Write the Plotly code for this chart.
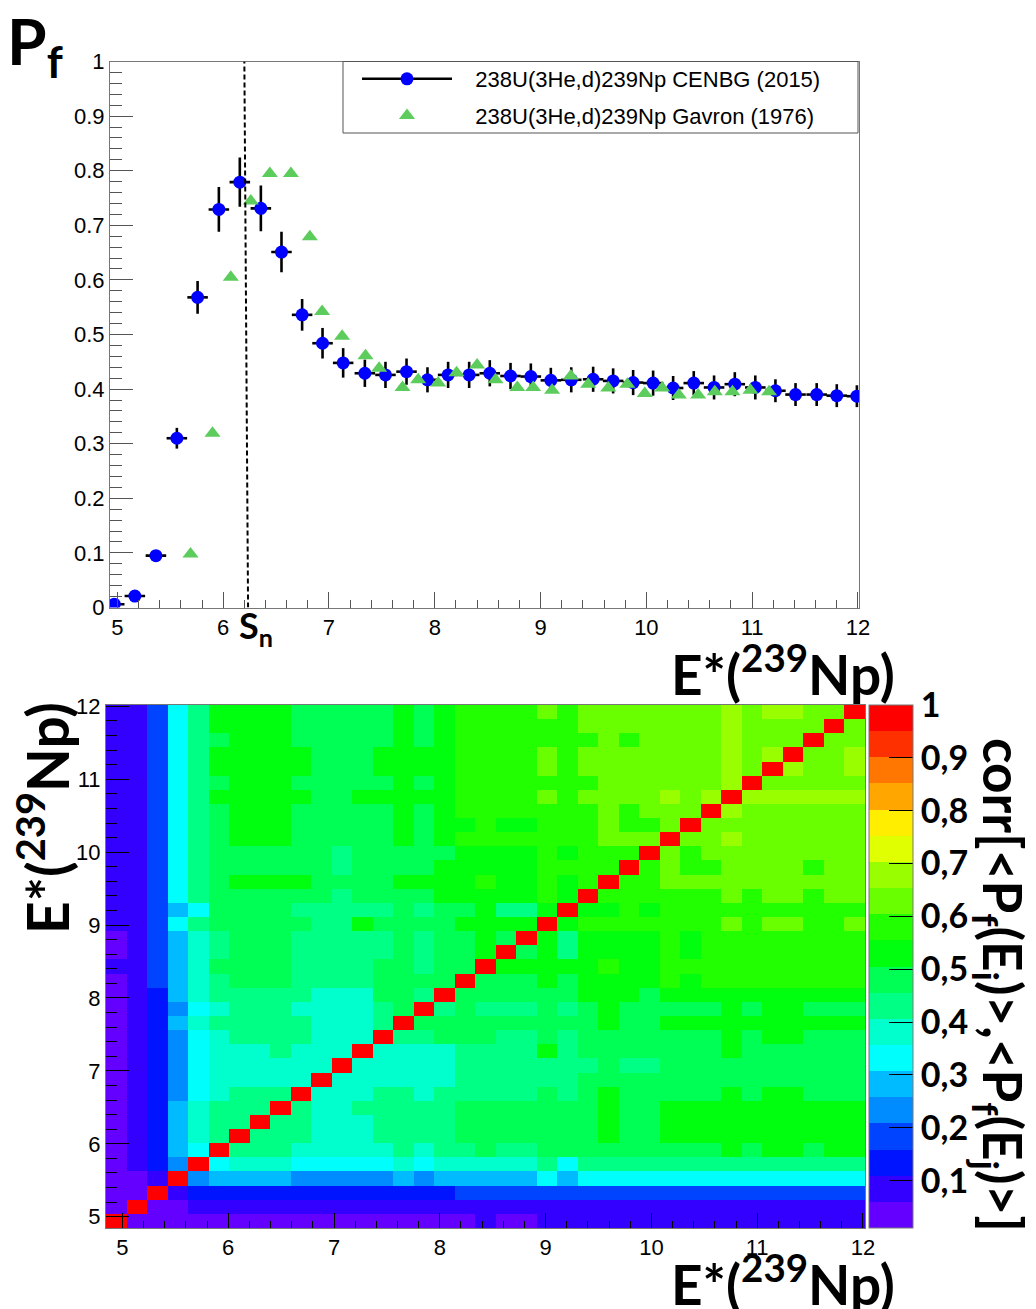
import colorsys
import plotly.graph_objects as go

# ---------------- top panel data ----------------
E_cenbg = [4.97, 5.165, 5.364, 5.562, 5.758, 5.959, 6.157, 6.356, 6.551, 6.746, 6.939, 7.134,
           7.339, 7.534, 7.733, 7.931, 8.126, 8.325, 8.52, 8.716, 8.908, 9.097, 9.29, 9.497,
           9.686, 9.875, 10.064, 10.253, 10.448, 10.64, 10.836, 11.03, 11.22, 11.41, 11.61,
           11.80, 11.99]
Pf_cenbg = [0.006, 0.021, 0.095, 0.310, 0.568, 0.729, 0.779, 0.731, 0.651, 0.536, 0.484, 0.448,
            0.429, 0.426, 0.432, 0.417, 0.426, 0.426, 0.429, 0.424, 0.423, 0.416, 0.417, 0.418,
            0.415, 0.412, 0.411, 0.402, 0.411, 0.403, 0.409, 0.403, 0.397, 0.390, 0.390,
            0.388, 0.387]
dPf_cenbg = [0.004, 0.005, 0.006, 0.019, 0.030, 0.041, 0.045, 0.042, 0.037, 0.029, 0.028, 0.027,
             0.025, 0.024, 0.024, 0.023, 0.024, 0.024, 0.024, 0.024, 0.024, 0.023, 0.023, 0.023,
             0.023, 0.023, 0.023, 0.022, 0.022, 0.022, 0.022, 0.022, 0.021, 0.021, 0.021,
             0.021, 0.020]
dE_half_bin = 0.097

E_gavron = [5.691, 5.899, 6.072, 6.261, 6.441, 6.64, 6.819, 6.935, 7.124, 7.345, 7.474, 7.695,
            7.843, 8.032, 8.206, 8.40, 8.574, 8.78, 8.93, 9.109, 9.286, 9.45, 9.64, 9.82,
            9.985, 10.15, 10.307, 10.49, 10.647, 10.814, 10.984, 11.16]
Pf_gavron = [0.098, 0.319, 0.605, 0.7445, 0.795, 0.795, 0.679, 0.542, 0.497, 0.461, 0.438, 0.403,
             0.417, 0.411, 0.430, 0.444, 0.417, 0.403, 0.403, 0.398, 0.424, 0.409, 0.402, 0.409,
             0.392, 0.402, 0.389, 0.389, 0.395, 0.395, 0.398, 0.395]

S_n = 6.215
x_ticks_top = [5, 6, 7, 8, 9, 10, 11, 12]
y_ticks_top = [0, 0.1, 0.2, 0.3, 0.4, 0.5, 0.6, 0.7, 0.8, 0.9, 1]
legend_names = ["238U(3He,d)239Np CENBG (2015)", "238U(3He,d)239Np Gavron (1976)"]

# ---------------- bottom panel data ----------------
E_bin_edges = [4.845, 5.039, 5.233, 5.427, 5.621, 5.815, 6.008, 6.202, 6.396, 6.590, 6.784,
               6.978, 7.172, 7.366, 7.560, 7.754, 7.947, 8.141, 8.335, 8.529, 8.723, 8.917,
               9.111, 9.305, 9.499, 9.693, 9.886, 10.080, 10.274, 10.468, 10.662, 10.856,
               11.050, 11.244, 11.438, 11.632, 11.825, 12.019]

# lower triangle of the (symmetric) correlation matrix, row i = E_i, columns j <= i
corr_lower = [
    [1],
    [.04, 1],
    [.04, .04, 1],
    [.04, .04, .08, 1],
    [.04, .08, .13, .23, 1],
    [.04, .08, .13, .28, .33, 1],
    [.04, .08, .13, .28, .38, .43, 1],
    [.04, .08, .13, .28, .38, .43, .43, 1],
    [.04, .08, .13, .28, .38, .43, .43, .43, 1],
    [.04, .08, .13, .23, .33, .38, .43, .43, .43, 1],
    [.04, .08, .13, .23, .33, .38, .38, .38, .38, .38, 1],
    [.04, .08, .13, .23, .33, .38, .38, .38, .38, .38, .38, 1],
    [.04, .08, .13, .23, .33, .38, .38, .38, .43, .38, .38, .38, 1],
    [.04, .08, .13, .23, .33, .38, .43, .43, .43, .43, .38, .38, .38, 1],
    [.04, .08, .13, .28, .38, .43, .43, .43, .43, .43, .38, .38, .38, .43, 1],
    [.04, .08, .13, .23, .33, .38, .43, .43, .43, .38, .38, .38, .38, .43, .48, 1],
    [.04, .08, .13, .28, .38, .43, .43, .43, .43, .43, .38, .38, .38, .48, .48, .43, 1],
    [.04, .08, .18, .28, .38, .43, .48, .48, .48, .43, .43, .43, .43, .48, .48, .48, .48, 1],
    [.08, .08, .18, .28, .38, .48, .48, .48, .48, .43, .43, .43, .43, .48, .48, .43, .48, .48, 1],
    [.04, .08, .18, .28, .38, .43, .48, .48, .48, .43, .43, .43, .43, .43, .48, .43, .48, .48, .53, 1],
    [.04, .08, .18, .28, .38, .43, .48, .48, .48, .43, .43, .43, .43, .43, .48, .43, .48, .48, .53,
     .48, 1],
    [.08, .08, .18, .33, .43, .48, .48, .48, .48, .48, .43, .43, .53, .48, .48, .48, .48, .53, .53,
     .53, .53, 1],
    [.08, .08, .18, .28, .33, .48, .48, .48, .48, .43, .43, .43, .43, .43, .48, .43, .48, .48, .53,
     .43, .43, .53, 1],
    [.08, .08, .18, .33, .43, .48, .48, .48, .48, .48, .48, .43, .48, .48, .48, .48, .53, .53, .53,
     .53, .53, .58, .53, 1],
    [.08, .08, .18, .33, .43, .48, .53, .53, .53, .53, .48, .48, .48, .48, .53, .53, .53, .53, .58,
     .53, .53, .58, .53, .58, 1],
    [.08, .08, .18, .33, .43, .48, .48, .48, .48, .48, .48, .43, .48, .48, .48, .48, .53, .53, .53,
     .53, .53, .58, .58, .58, .58, 1],
    [.08, .08, .18, .33, .43, .48, .48, .48, .48, .48, .48, .43, .48, .48, .48, .48, .48, .53, .53,
     .53, .53, .58, .53, .58, .58, .58, 1],
    [.08, .08, .18, .33, .43, .48, .53, .53, .53, .48, .48, .48, .48, .48, .53, .48, .53, .58, .58,
     .58, .58, .58, .58, .58, .63, .63, .63, 1],
    [.08, .08, .18, .33, .43, .48, .53, .53, .53, .48, .48, .48, .48, .48, .53, .48, .53, .53, .58,
     .53, .53, .58, .58, .58, .63, .58, .58, .63, 1],
    [.08, .08, .18, .33, .43, .48, .53, .53, .53, .48, .48, .48, .48, .48, .53, .48, .53, .58, .58,
     .58, .58, .58, .58, .58, .63, .58, .63, .63, .63, 1],
    [.08, .08, .18, .33, .43, .53, .53, .53, .53, .53, .48, .48, .53, .53, .53, .53, .53, .58, .58,
     .58, .58, .63, .58, .63, .63, .63, .63, .68, .63, .68, 1],
    [.08, .08, .18, .33, .43, .48, .53, .53, .53, .48, .48, .48, .48, .48, .53, .48, .53, .58, .58,
     .58, .58, .58, .58, .58, .63, .63, .63, .63, .63, .63, .68, 1],
    [.08, .08, .18, .33, .43, .53, .53, .53, .53, .53, .48, .48, .48, .53, .53, .53, .53, .58, .58,
     .58, .58, .63, .58, .63, .63, .63, .63, .63, .63, .63, .68, .63, 1],
    [.08, .08, .18, .33, .43, .53, .53, .53, .53, .53, .48, .48, .48, .53, .53, .53, .53, .58, .58,
     .58, .58, .63, .58, .63, .63, .63, .63, .63, .63, .63, .68, .63, .68, 1],
    [.08, .08, .18, .33, .43, .48, .53, .53, .53, .48, .48, .48, .48, .48, .53, .48, .53, .58, .58,
     .58, .58, .58, .58, .58, .63, .58, .63, .63, .63, .63, .68, .63, .63, .63, 1],
    [.08, .08, .18, .33, .43, .53, .53, .53, .53, .48, .48, .48, .48, .48, .53, .48, .53, .58, .58,
     .58, .58, .58, .58, .63, .63, .63, .63, .63, .63, .63, .68, .63, .63, .63, .63, 1],
    [.08, .08, .18, .33, .43, .53, .53, .53, .53, .48, .48, .48, .48, .48, .53, .48, .53, .58, .58,
     .58, .58, .63, .58, .63, .63, .63, .63, .63, .63, .63, .68, .63, .68, .68, .63, .63, 1],
]
corr_ticks = [0.1, 0.2, 0.3, 0.4, 0.5, 0.6, 0.7, 0.8, 0.9, 1.0]
corr_ticktext = ["0,1", "0,2", "0,3", "0,4", "0,5", "0,6", "0,7", "0,8", "0,9", "1"]
x_ticks_bot = [5, 6, 7, 8, 9, 10, 11, 12]

# ---------------- build ----------------
n = len(corr_lower)
corr = [[corr_lower[max(i, j)][min(i, j)] for j in range(n)] for i in range(n)]

Z_MIN, Z_MAX, N_CONT = 0.0105, 1.0, 20


def root_pretty_palette():
    cols = []
    for i in range(50):
        hue = 280.0 - (i + 1) * 280.0 / 50
        r, g, b = colorsys.hls_to_rgb(hue / 360.0, 0.5, 1.0)
        cols.append("rgb(%d,%d,%d)" % (round(r * 255), round(g * 255), round(b * 255)))
    return cols


pal = root_pretty_palette()
cscale = []
for k in range(N_CONT):
    c = pal[int((k + 0.99) * 50 / N_CONT)]
    cscale.append([k / N_CONT, c])
    cscale.append([(k + 1) / N_CONT, c])

W, H = 1036, 1309


def px(x):
    return x / W


def py(y):
    return 1 - y / H


BLUE = "#0000ff"
GREEN = "#5ccc5c"
TITLE_FONT = "Lato"

fig = go.Figure()

# top panel
fig.add_trace(go.Scatter(
    x=E_cenbg, y=Pf_cenbg, mode="markers", showlegend=False,
    marker=dict(color=BLUE, size=13, symbol="circle"),
    error_y=dict(type="data", array=dPf_cenbg, color="black", thickness=2.6, width=0),
    error_x=dict(type="constant", value=dE_half_bin, color="black", thickness=2.6, width=0),
    xaxis="x", yaxis="y", hoverinfo="skip"))
fig.add_trace(go.Scatter(
    x=E_gavron, y=Pf_gavron, mode="markers", showlegend=False,
    marker=dict(color=GREEN, size=14, symbol="triangle-up"),
    xaxis="x", yaxis="y", hoverinfo="skip"))
# legend entries
fig.add_trace(go.Scatter(
    x=[None], y=[None], mode="lines+markers", name="&nbsp;&nbsp;&nbsp;" + legend_names[0],
    legendgroup="a", line=dict(color="black", width=2.5), marker=dict(color=BLUE, size=13),
    xaxis="x", yaxis="y"))
fig.add_trace(go.Scatter(
    x=[None], y=[None], mode="markers", name="&nbsp;&nbsp;&nbsp;" + legend_names[1],
    legendgroup="b", marker=dict(color=GREEN, size=14, symbol="triangle-up"),
    xaxis="x", yaxis="y"))

# bottom panel heatmap
fig.add_trace(go.Heatmap(
    z=corr, x=E_bin_edges, y=E_bin_edges, zmin=Z_MIN, zmax=Z_MAX,
    colorscale=cscale, xaxis="x2", yaxis="y2", hoverinfo="skip",
    colorbar=dict(
        x=px(869), xanchor="left", y=py(705), yanchor="top",
        len=523 / H, lenmode="fraction", thickness=44, thicknessmode="pixels",
        xpad=0, ypad=0, outlinewidth=1, outlinecolor="#777",
        tickvals=corr_ticks, ticktext=["<b>%s</b>" % t for t in corr_ticktext],
        ticks="inside", ticklen=24, tickwidth=1, tickcolor="black",
        tickfont=dict(family=TITLE_FONT, size=34, color="black"),
    )))

tick_font = dict(family="Liberation Sans", size=22, color="black")
axis_common = dict(showgrid=False, zeroline=False, showline=True, mirror=True,
                   linecolor="#777", linewidth=1, tickfont=tick_font)

fig.update_layout(
    width=W, height=H, autosize=False,
    margin=dict(l=0, r=0, t=0, b=0, pad=0, autoexpand=False),
    paper_bgcolor="white", plot_bgcolor="white",
    xaxis=dict(domain=[px(110), px(859)], range=[4.93, 12.01], anchor="y",
               tickvals=x_ticks_top, ticks="inside", ticklen=16, tickcolor="#555",
               minor=dict(ticks="inside", ticklen=8, dtick=0.2, tick0=5, tickcolor="#555"),
               **axis_common),
    yaxis=dict(domain=[py(607.5), py(61.5)], range=[0, 1], anchor="x",
               tickvals=y_ticks_top, ticks="inside", ticklen=23, tickcolor="#555",
               minor=dict(ticks="inside", ticklen=12, dtick=0.02, tick0=0, tickcolor="#555"),
               **axis_common),
    xaxis2=dict(domain=[px(106), px(865)], range=[4.845, 12.019], anchor="y2",
                tickvals=x_ticks_bot, ticks="inside", ticklen=15, tickcolor="black",
                minor=dict(ticks="inside", ticklen=7, dtick=0.2, tick0=5, tickcolor="black"),
                **axis_common),
    yaxis2=dict(domain=[py(1228), py(705)], range=[4.845, 12.019], anchor="x2",
                tickvals=x_ticks_bot, ticks="inside", ticklen=23, tickcolor="black",
                minor=dict(ticks="inside", ticklen=11, dtick=0.2, tick0=5, tickcolor="black"),
                **axis_common),
    legend=dict(x=px(357), y=py(58), xanchor="left", yanchor="top",
                bgcolor="rgba(0,0,0,0)", borderwidth=0, itemwidth=90,
                font=dict(family="Liberation Sans", size=22, color="black"),
                tracegroupgap=5),
    shapes=[
        dict(type="rect", xref="paper", yref="paper", x0=px(343), x1=px(858),
             y0=py(133), y1=py(61.5), line=dict(color="#555", width=1)),
        dict(type="line", xref="x", yref="y", x0=6.235, y0=0, x1=6.2, y1=1,
             line=dict(color="black", width=2, dash="5px,3px")),
    ],
    annotations=[
        dict(text="<b>P<sub>f</sub></b>", xref="paper", yref="paper", x=px(5), y=py(0),
             xanchor="left", yanchor="top", showarrow=False,
             font=dict(family=TITLE_FONT, size=64, color="black")),
        dict(text="<b>S<sub>n</sub></b>", xref="x", yref="paper", x=6.13, y=py(601),
             xanchor="left", yanchor="top", showarrow=False,
             font=dict(family=TITLE_FONT, size=36, color="black")),
        dict(text="<b>E*(<sup>239</sup>Np)</b>", xref="paper", yref="paper", x=px(897),
             y=py(670), xanchor="right", yanchor="middle", showarrow=False,
             font=dict(family=TITLE_FONT, size=55, color="black")),
        dict(text="<b>E*(<sup>239</sup>Np)</b>", xref="paper", yref="paper", x=px(897),
             y=py(1280), xanchor="right", yanchor="middle", showarrow=False,
             font=dict(family=TITLE_FONT, size=55, color="black")),
        dict(text="<b>E*(<sup>239</sup>Np)</b>", xref="paper", yref="paper", x=px(43),
             y=py(818), xanchor="center", yanchor="middle", showarrow=False, textangle=-90,
             font=dict(family=TITLE_FONT, size=57, color="black")),
        dict(text="<b>corr[&lt;P<sub>f</sub>(E<sub>i</sub>)&gt;,&lt;P<sub>f</sub>(E<sub>j</sub>)&gt;]</b>",
             xref="paper", yref="paper", x=px(1000), y=py(985), xanchor="center",
             yanchor="middle", showarrow=False, textangle=90,
             font=dict(family=TITLE_FONT, size=53, color="black")),
    ],
)

fig.write_html("out.html", config={"displayModeBar": False},
               post_script="document.body.style.margin='0px';document.body.style.padding='0px';")
